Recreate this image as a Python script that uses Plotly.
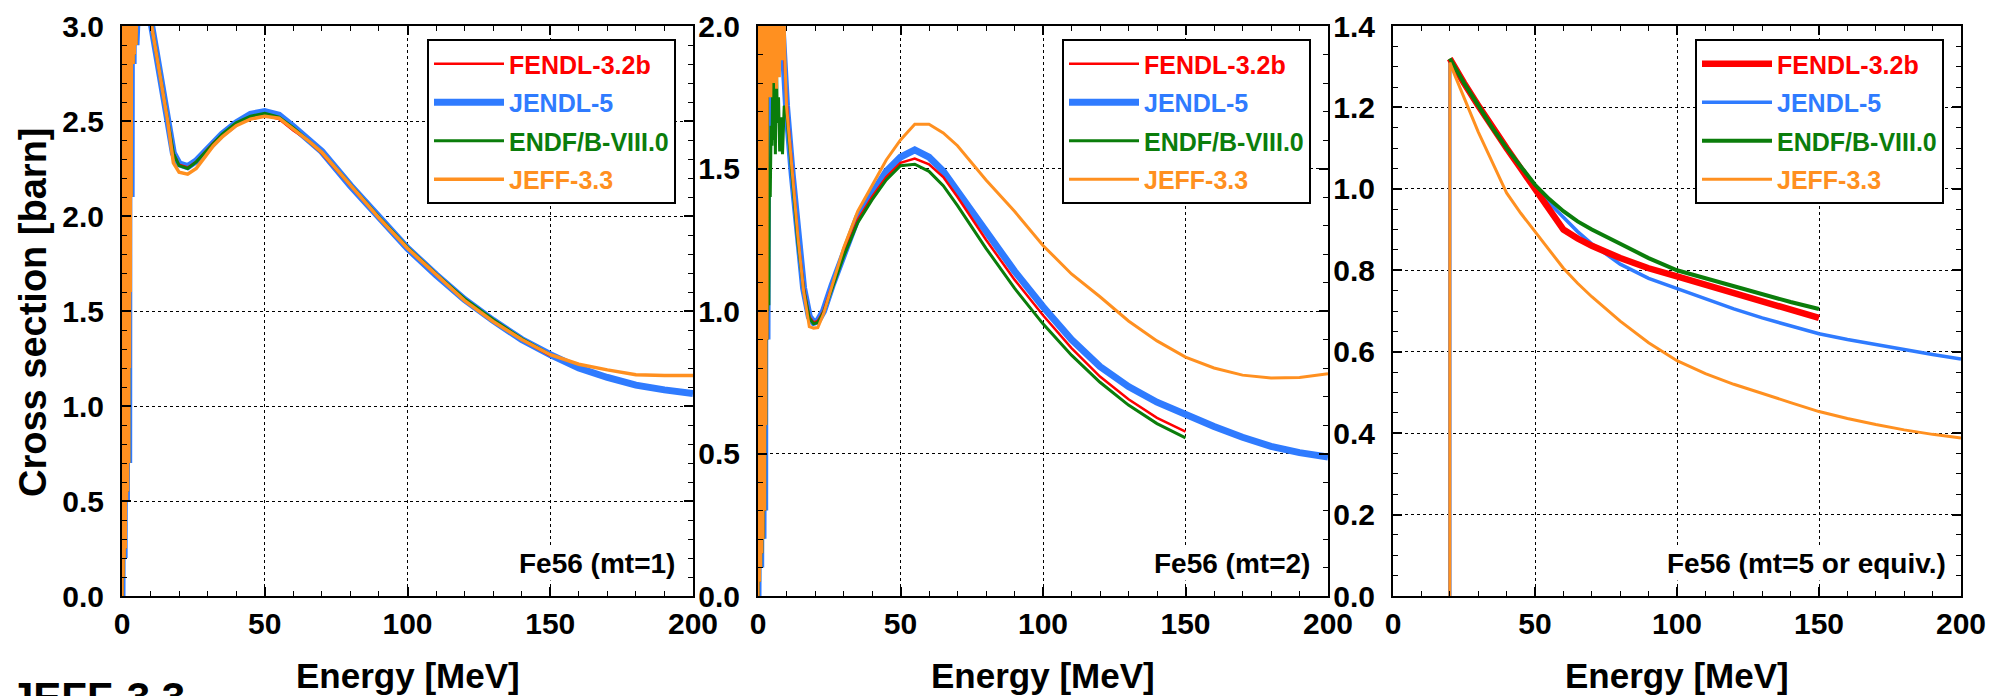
import plotly.graph_objects as go

# ---------------- colours / names ----------------
LIBS = ["FENDL-3.2b", "JENDL-5", "ENDF/B-VIII.0", "JEFF-3.3"]
COLORS = {"FENDL-3.2b": "#ff0000", "JENDL-5": "#2f7bff",
          "ENDF/B-VIII.0": "#0b7d0b", "JEFF-3.3": "#ff9020"}

# ---------------- panel 1 : Fe56 mt=1 ----------------
E_LOW_1 = [0.0, 0.05, 0.15, 0.25, 0.35, 0.45, 0.55, 0.65, 0.75, 0.85, 0.95, 1.05, 1.15, 1.25,
           1.35, 1.45, 1.55, 1.65, 1.75, 1.85, 1.95, 2.05, 2.15, 2.25, 2.35, 2.45, 2.6, 2.75,
           2.9, 3.05, 3.2, 3.35, 3.5, 3.7, 3.9, 4.1, 4.3, 4.6, 4.9, 5.3]
S_LOW_1 = [0.0, 3.3, 0.05, 3.6, 0.1, 3.4, 0.15, 3.8, 0.2, 3.5, 0.3, 3.7, 0.25, 3.6,
           0.4, 3.9, 0.5, 3.5, 0.6, 3.7, 0.55, 3.8, 0.8, 3.6, 0.7, 3.7, 1.2, 3.5,
           1.6, 3.6, 2.1, 3.7, 2.5, 3.5, 2.8, 3.6, 2.85, 3.4, 2.9, 3.3]
E_HI_1 = [6.5, 8.5, 10.4, 12, 14, 16, 18, 20, 23, 26, 29, 32, 35, 40, 45, 50, 55, 60, 65, 70,
          80, 90, 100, 110, 120, 130, 140, 150, 160, 170, 180, 190, 200]
FENDL_1 = [3.5, 3.4, 3.0, 2.86, 2.68, 2.50, 2.33, 2.27, 2.255, 2.285, 2.335, 2.385, 2.425, 2.48,
           2.52, 2.53, 2.51, 2.45, 2.40, 2.33, 2.16, 1.99, 1.83, 1.69, 1.56, 1.45, 1.35, 1.265]
JENDL_1 = [3.5, 3.4, 3.0, 2.86, 2.68, 2.50, 2.33, 2.275, 2.26, 2.29, 2.34, 2.39, 2.43, 2.49,
           2.535, 2.55, 2.53, 2.47, 2.41, 2.34, 2.16, 1.99, 1.83, 1.69, 1.56, 1.45, 1.35, 1.27,
           1.20, 1.15, 1.11, 1.085, 1.065]
ENDF_1 = [3.5, 3.4, 3.0, 2.86, 2.68, 2.50, 2.33, 2.265, 2.25, 2.285, 2.335, 2.385, 2.43, 2.49,
          2.525, 2.54, 2.52, 2.465, 2.40, 2.335, 2.165, 1.995, 1.835, 1.695, 1.565, 1.455, 1.355, 1.27]
JEFF_1 = [3.5, 3.4, 3.0, 2.86, 2.68, 2.50, 2.28, 2.23, 2.22, 2.25, 2.31, 2.37, 2.415, 2.475,
          2.51, 2.525, 2.515, 2.46, 2.40, 2.335, 2.16, 1.99, 1.83, 1.69, 1.555, 1.445, 1.35, 1.27,
          1.22, 1.19, 1.165, 1.16, 1.16]

# ---------------- panel 2 : Fe56 mt=2 ----------------
E_LOW_2 = [0.0, 0.05, 0.15, 0.25, 0.35, 0.45, 0.55, 0.65, 0.75, 0.85, 0.95, 1.05, 1.15, 1.25,
           1.35, 1.45, 1.55, 1.65, 1.75, 1.85, 1.95, 2.05, 2.15, 2.25, 2.35, 2.45, 2.55, 2.65,
           2.75, 2.85, 2.95, 3.05, 3.15, 3.3]
S_LOW_2 = [0.0, 2.3, 0.05, 2.4, 0.1, 2.3, 0.05, 2.5, 0.15, 2.3, 0.1, 2.4, 0.2, 2.3,
           0.15, 2.5, 0.25, 2.3, 0.2, 2.4, 0.3, 2.3, 0.35, 2.4, 0.3, 2.5, 0.5, 2.3,
           0.6, 2.4, 0.8, 2.3, 0.9, 2.4]
E_MID_2 = [3.6, 5.0, 6.5, 8.0, 8.8]
FENDL_MID_2 = [2.4, 2.5, 2.4, 2.15, 1.97]
JENDL_MID_2 = [2.4, 2.5, 2.35, 2.08, 1.92]
E_MID_ENDF_2 = [3.4, 3.6, 3.8, 4.0, 4.3, 4.6, 4.9, 5.2, 5.5, 5.8, 6.1, 6.4, 6.8, 7.2, 7.6, 8.0, 8.6, 9.2]
ENDF_MID_2 = [1.0, 1.35, 1.02, 1.5, 1.4, 1.65, 1.58, 1.84, 1.6, 1.78, 1.55, 1.92, 1.66, 1.75,
              1.56, 1.68, 1.55, 1.72]
E_MID_JEFF_2 = [3.5, 4.0, 4.5, 5.0, 5.5, 6.0, 6.5, 7.0, 7.5, 8.0, 8.5, 9.0, 9.4]
JEFF_MID_2 = [1.75, 2.3, 1.75, 2.3, 1.8, 2.3, 1.78, 2.3, 1.82, 2.25, 1.88, 2.15, 1.9]
E_HI_2 = [10, 12, 14, 16, 18, 19.5, 21, 23, 26, 30, 35, 40, 45, 50, 55, 60, 65, 70, 80, 90,
          100, 110, 120, 130, 140, 150, 160, 170, 180, 190, 200]
FENDL_2 = [1.74, 1.50, 1.26, 1.085, 0.98, 0.96, 0.965, 1.0, 1.09, 1.20, 1.32, 1.40, 1.47, 1.52,
           1.535, 1.515, 1.47, 1.40, 1.25, 1.11, 0.985, 0.87, 0.77, 0.69, 0.625, 0.577]
JENDL_2 = [1.72, 1.48, 1.25, 1.08, 0.98, 0.96, 0.965, 1.0, 1.09, 1.20, 1.33, 1.41, 1.49, 1.54,
           1.565, 1.54, 1.49, 1.42, 1.275, 1.14, 1.015, 0.90, 0.805, 0.735, 0.68, 0.635, 0.595,
           0.557, 0.525, 0.503, 0.488]
ENDF_2 = [1.70, 1.47, 1.24, 1.075, 0.975, 0.955, 0.96, 0.995, 1.08, 1.19, 1.31, 1.39, 1.46, 1.51,
          1.515, 1.49, 1.44, 1.37, 1.22, 1.08, 0.955, 0.845, 0.75, 0.67, 0.605, 0.555]
JEFF_2 = [1.72, 1.49, 1.26, 1.07, 0.945, 0.94, 0.942, 0.99, 1.09, 1.22, 1.35, 1.44, 1.53, 1.60,
          1.655, 1.655, 1.625, 1.58, 1.46, 1.35, 1.23, 1.13, 1.05, 0.965, 0.895, 0.838, 0.80,
          0.775, 0.765, 0.767, 0.78]

# ---------------- panel 3 : Fe56 mt=5 or equiv. ----------------
E_THR_3 = [20.0]
S_THR_3 = [0.0]
E_HI_3 = [20, 22, 25, 30, 35, 40, 45, 50, 55, 60, 65, 70, 80, 90, 100, 110, 120, 130, 140, 150,
          160, 170, 180, 190, 200]
FENDL_3 = [1.32, 1.295, 1.26, 1.205, 1.15, 1.10, 1.05, 1.0, 0.95, 0.90, 0.878, 0.86, 0.83, 0.805,
           0.785, 0.765, 0.745, 0.725, 0.705, 0.683]
JENDL_3 = [1.315, 1.29, 1.255, 1.20, 1.15, 1.10, 1.05, 1.005, 0.965, 0.93, 0.895, 0.865, 0.815,
           0.78, 0.755, 0.73, 0.705, 0.683, 0.663, 0.644, 0.63, 0.617, 0.604, 0.593, 0.582]
ENDF_3 = [1.32, 1.295, 1.26, 1.205, 1.15, 1.10, 1.055, 1.01, 0.975, 0.945, 0.92, 0.90, 0.865,
          0.83, 0.80, 0.78, 0.76, 0.74, 0.722, 0.705]
JEFF_3 = [1.31, 1.275, 1.225, 1.14, 1.065, 0.99, 0.94, 0.895, 0.848, 0.805, 0.768, 0.735, 0.675,
          0.622, 0.578, 0.546, 0.52, 0.497, 0.475, 0.453, 0.436, 0.421, 0.408, 0.397, 0.388]

PANEL_LABELS = ["Fe56 (mt=1)", "Fe56 (mt=2)", "Fe56 (mt=5 or equiv.)"]
X_TICKS = [0, 50, 100, 150, 200]

FONT = "Liberation Sans, Arial, sans-serif"
NARROW = "Liberation Sans Narrow, Arial Narrow, Liberation Sans, sans-serif"

# series per panel: (lib, x, y, width)
panels = [
    [("JENDL-5", E_LOW_1 + E_HI_1, S_LOW_1 + JENDL_1, 7),
     ("FENDL-3.2b", E_LOW_1 + E_HI_1[:len(FENDL_1)], S_LOW_1 + FENDL_1, 2.5),
     ("ENDF/B-VIII.0", E_LOW_1 + E_HI_1[:len(ENDF_1)], S_LOW_1 + ENDF_1, 3),
     ("JEFF-3.3", E_LOW_1 + E_HI_1, S_LOW_1 + JEFF_1, 3.5)],
    [("JENDL-5", E_LOW_2 + E_MID_2 + E_HI_2, S_LOW_2 + JENDL_MID_2 + JENDL_2, 7),
     ("FENDL-3.2b", E_LOW_2 + E_MID_2 + E_HI_2[:len(FENDL_2)], S_LOW_2 + FENDL_MID_2 + FENDL_2, 2.5),
     ("ENDF/B-VIII.0", E_LOW_2 + E_MID_ENDF_2 + E_HI_2[:len(ENDF_2)], S_LOW_2 + ENDF_MID_2 + ENDF_2, 3),
     ("JEFF-3.3", E_LOW_2 + E_MID_JEFF_2 + E_HI_2, S_LOW_2 + JEFF_MID_2 + JEFF_2, 3)],
    [("JENDL-5", E_THR_3 + E_HI_3, S_THR_3 + JENDL_3, 3.5),
     ("FENDL-3.2b", E_HI_3[:len(FENDL_3)], FENDL_3, 6.5),
     ("ENDF/B-VIII.0", E_HI_3[:len(ENDF_3)], ENDF_3, 4),
     ("JEFF-3.3", E_THR_3 + E_HI_3, S_THR_3 + JEFF_3, 3)],
]

fig = go.Figure()
for p, series in enumerate(panels):
    ax = "" if p == 0 else str(p + 1)
    for lib, xs, ys, w in series:
        fig.add_trace(go.Scatter(
            x=xs, y=ys, mode="lines",
            line=dict(color=COLORS[lib], width=w),
            name=f"<span style='color:{COLORS[lib]}'>{lib}</span>",
            legend="legend" + ax, legendgroup=lib + ax,
            legendrank=LIBS.index(lib) + 1,
            xaxis="x" + ax, yaxis="y" + ax, showlegend=True,
        ))

W, H = 2002, 696
XD = [[122 / W, 693 / W], [758 / W, 1328 / W], [1393 / W, 1961 / W]]
YD = [1 - 596 / H, 1 - 26 / H]
YR = [[0, 3.0], [0, 2.0], [0, 1.4]]
YDT = [0.5, 0.5, 0.2]
YMIN = [0.1, 0.1, 0.05]

tickfont = dict(family=NARROW, size=30, color="black", weight="bold")
layout = dict(width=W, height=H, margin=dict(l=0, r=0, t=0, b=0, autoexpand=False),
              paper_bgcolor="white", plot_bgcolor="white", showlegend=True)
for p in range(3):
    ax = "" if p == 0 else str(p + 1)
    common = dict(showline=True, linecolor="black", linewidth=2, mirror="allticks",
                  ticks="inside", ticklen=9, tickwidth=1.5, tickcolor="black",
                  showgrid=True, gridcolor="black", griddash="dot", gridwidth=1,
                  zeroline=False, tickfont=tickfont, automargin=False)
    layout["xaxis" + ax] = dict(domain=XD[p], range=[0, 200], anchor="y" + ax,
                                tickvals=X_TICKS, ticklabelstandoff=0,
                                minor=dict(dtick=10, tick0=0, ticks="inside", ticklen=5,
                                           tickwidth=1.2, tickcolor="black", showgrid=False),
                                **common)
    layout["yaxis" + ax] = dict(domain=YD, range=YR[p], anchor="x" + ax,
                                dtick=YDT[p], tick0=0, tickformat=".1f", ticklabelstandoff=10,
                                minor=dict(dtick=YMIN[p], tick0=0, ticks="inside", ticklen=5,
                                           tickwidth=1.2, tickcolor="black", showgrid=False),
                                **common)
    layout["legend" + ax] = dict(x=[427, 1062, 1695][p] / W, y=1 - 39 / H,
                                 xanchor="left", yanchor="top",
                                 bgcolor="white", bordercolor="black", borderwidth=2,
                                 font=dict(family=FONT, size=25, weight="bold"),
                                 traceorder="grouped", tracegroupgap=3, itemwidth=70)

annotations = []
for p in range(3):
    annotations.append(dict(text=PANEL_LABELS[p], xref="paper", yref="paper",
                            x=[677, 1312, 1948][p] / W, y=1 - 563 / H,
                            xanchor="right", yanchor="middle", showarrow=False,
                            bgcolor="white",
                            font=dict(family=FONT, size=28, color="black", weight="bold")))
    annotations.append(dict(text="Energy [MeV]", xref="paper", yref="paper",
                            x=(XD[p][0] + XD[p][1]) / 2, y=1 - 675 / H,
                            xanchor="center", yanchor="middle", showarrow=False,
                            font=dict(family=FONT, size=35, color="black", weight="bold")))
annotations.append(dict(text="Cross section [barn]", xref="paper", yref="paper",
                        x=33 / W, y=1 - 312 / H, textangle=-90,
                        xanchor="center", yanchor="middle", showarrow=False,
                        font=dict(family=FONT, size=38, color="black", weight="bold")))
annotations.append(dict(text="JEFF-3.3", xref="paper", yref="paper",
                        x=8 / W, y=1 - 697 / H, xanchor="left", yanchor="middle",
                        showarrow=False,
                        font=dict(family=FONT, size=42, color="black", weight="bold")))
layout["annotations"] = annotations
fig.update_layout(**layout)
fig.write_html("out.html")
